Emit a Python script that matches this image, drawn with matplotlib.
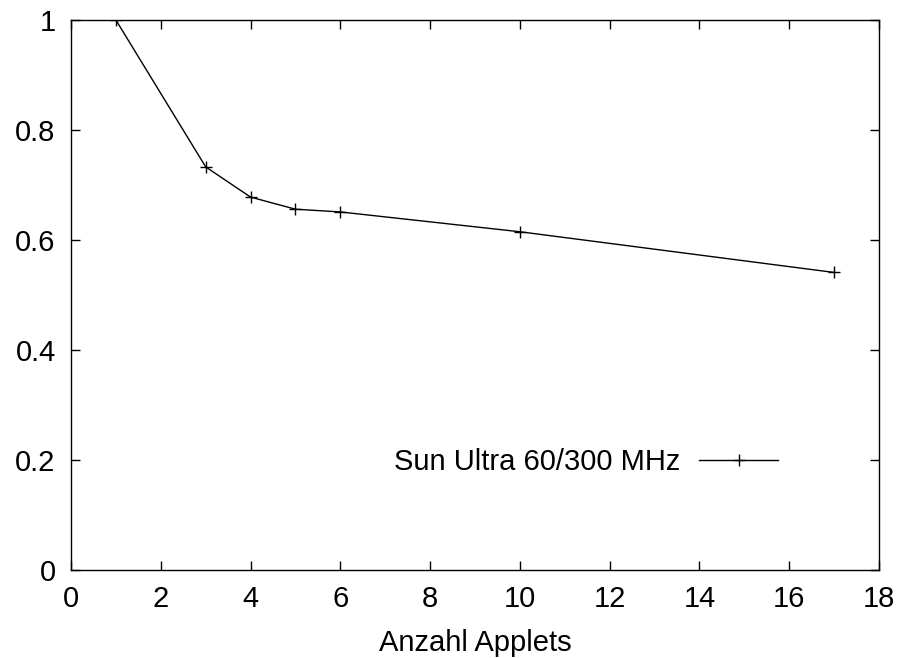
import matplotlib
matplotlib.use("Agg")
import matplotlib.pyplot as plt

# Relative throughput versus number of concurrently running applets
applets = [1, 3, 4, 5, 6, 10, 17]
throughput = [1.0, 0.733, 0.678, 0.656, 0.651, 0.615, 0.541]
series_label = "Sun Ultra 60/300 MHz"
x_ticks = [0, 2, 4, 6, 8, 10, 12, 14, 16, 18]
y_ticks = [0, 0.2, 0.4, 0.6, 0.8, 1]
y_tick_labels = ["0", "0.2", "0.4", "0.6", "0.8", "1"]

plt.rcParams["font.family"] = ["Liberation Sans", "DejaVu Sans"]

fig = plt.figure(figsize=(8.98, 6.58), dpi=100)
ax = fig.add_axes([71 / 898, 88 / 658, 808 / 898, 550 / 658])

ax.plot(applets, throughput, color="black", linewidth=1.0, marker="+",
        markersize=8, markeredgewidth=1.0, label=series_label)

ax.set_xlim(0, 18)
ax.set_ylim(0, 1)
ax.set_xticks(x_ticks)
ax.set_xticklabels([str(t) for t in x_ticks])
ax.set_yticks(y_ticks)
ax.set_yticklabels(y_tick_labels)

ax.tick_params(direction="in", length=6.5, width=1.0, top=True, right=True,
               labelsize=21, pad=11)
for spine in ax.spines.values():
    spine.set_linewidth(1.0)

ax.set_xlabel("Anzahl Applets", fontsize=21, labelpad=11)

ax.legend(loc="center right", bbox_to_anchor=(778 / 898, 1 - 462 / 658),
          bbox_transform=fig.transFigure, frameon=False, markerfirst=False,
          fontsize=21, handlelength=2.7, handletextpad=0.65,
          borderpad=0, borderaxespad=0)

fig.savefig("out.png", dpi=100)
